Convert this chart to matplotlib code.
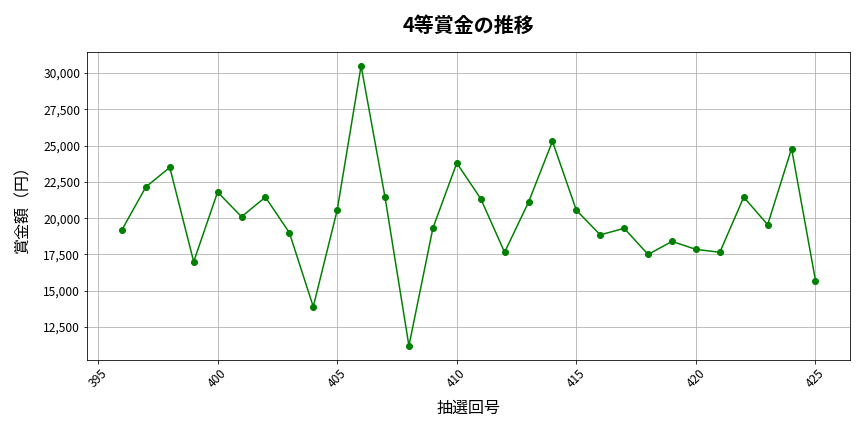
import matplotlib
matplotlib.use('Agg')
import matplotlib.pyplot as plt
from matplotlib.ticker import FuncFormatter

plt.rcParams['font.family'] = ['Noto Sans CJK JP', 'DejaVu Sans']
plt.rcParams['font.size'] = 12

# 抽選回号と4等賞金
draws = list(range(396, 426))
prize = [19200, 22150, 23500, 17000, 21800, 20100, 21450, 19000, 13900, 20550,
         30500, 21450, 11200, 19300, 23800, 21350, 17650, 21100, 25300, 20550,
         18850, 19300, 17500, 18400, 17850, 17650, 21450, 19550, 24800, 15700]

fig, ax = plt.subplots(figsize=(12, 6), dpi=72)
ax.plot(draws, prize, marker='o', color='green', linestyle='-')
ax.set_title('4等賞金の推移', fontsize=20, fontweight='bold', pad=20)
ax.set_xlabel('抽選回号', fontsize=16, labelpad=10)
ax.set_ylabel('賞金額（円）', fontsize=16, labelpad=12)
ax.yaxis.set_major_formatter(FuncFormatter(lambda v, p: f'{int(v):,}'))
plt.xticks(rotation=45)
ax.grid(True)
fig.subplots_adjust(left=0.101, right=0.984, top=0.88, bottom=0.167)
plt.savefig('out.png')
